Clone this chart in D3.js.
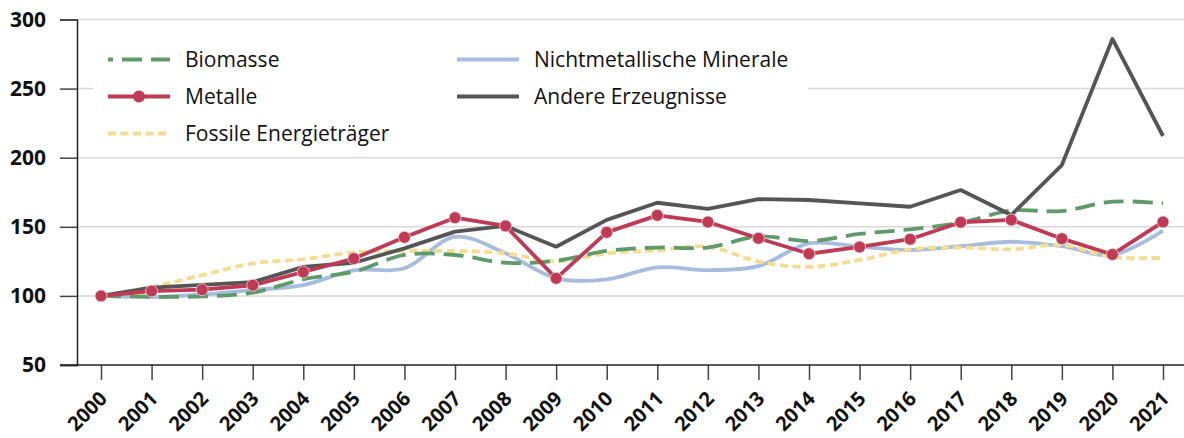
<!DOCTYPE html>
<html>
<head>
<meta charset="utf-8">
<script src="https://cdn.jsdelivr.net/npm/d3@7"></script>
<style>
  body { margin: 0; background: #fff; }
  svg { display: block; font-family: "Open Sans", sans-serif; }
</style>
</head>
<body>
<div id="chart"></div>
<script>
// years and index values (2000 = 100)
var years = [2000, 2001, 2002, 2003, 2004, 2005, 2006, 2007, 2008, 2009, 2010,
             2011, 2012, 2013, 2014, 2015, 2016, 2017, 2018, 2019, 2020, 2021];

var biomasse = [100, 99.4, 99.6, 102.3, 112, 117.5, 129.6, 129.6, 124, 125.5, 132.5,
                135, 135, 143, 139.7, 144.8, 148.2, 153, 161.7, 161.4, 168.2, 167];
var metalle  = [100, 103.5, 104.5, 107.7, 117.3, 127, 142.4, 156.6, 150.6, 112.7, 146,
                158.3, 153.5, 141.7, 130.5, 135.4, 141, 153.3, 155, 141.4, 130, 153.5];
var fossile  = [100, 106.5, 115, 123.5, 126.5, 131.5, 132.5, 132.5, 130.8, 125, 130.8,
                133, 135.6, 124.8, 121, 126, 133.7, 135, 133.7, 136.8, 128, 127.7];
var minerale = [100, 99.2, 101, 104.3, 107.8, 118.5, 120, 142.8, 130.8, 112.7, 112,
                120.7, 118.7, 121.6, 138, 135.6, 133.2, 136, 139.2, 136, 129.6, 147.2];
var andere   = [100, 106, 108, 110, 121, 124, 134.4, 146.5, 150.6, 135.6, 155,
                167.4, 162.9, 170, 169.4, 167, 164.5, 176.6, 158.5, 194.7, 285.9, 215.7];

var yTicks = [50, 100, 150, 200, 250, 300];

var series = [
  {name: "Biomasse", values: biomasse, color: "#5e9b69", dash: "20,9", legendOffset: 15, smooth: true, col: 0, row: 0},
  {name: "Metalle", values: metalle, color: "#be3a55", dash: null, smooth: false, marker: true, col: 0, row: 1},
  {name: "Fossile Energieträger", values: fossile, color: "#f6dc8e", dash: "8,4.5", smooth: true, col: 0, row: 2},
  {name: "Nichtmetallische Minerale", values: minerale, color: "#a7bde0", dash: null, smooth: true, col: 1, row: 0},
  {name: "Andere Erzeugnisse", values: andere, color: "#555555", dash: null, smooth: false, col: 1, row: 1}
];

var width = 1184, height = 438;
var margin = {left: 77, top: 19.5, right: 0, bottom: 73};

var svg = d3.select("#chart").append("svg")
    .attr("width", width)
    .attr("height", height);

var x = d3.scaleLinear().domain([2000, 2021]).range([101, 1163]);
var y = d3.scaleLinear().domain([50, 300]).range([height - margin.bottom, margin.top]);

// grid lines
svg.append("g").selectAll("line")
    .data(yTicks.filter(d => d > 50))
    .enter().append("line")
    .attr("x1", margin.left).attr("x2", width)
    .attr("y1", d => y(d)).attr("y2", d => y(d))
    .attr("stroke", "#d9d9d9").attr("stroke-width", 1.5);

// legend background hides part of the grid
svg.append("rect")
    .attr("x", 93).attr("y", 30)
    .attr("width", 715).attr("height", 122)
    .attr("fill", "#fff");

// y axis
var yAxis = d3.axisLeft(y).tickValues(yTicks).tickSize(17).tickPadding(14);
var gy = svg.append("g").attr("transform", "translate(" + margin.left + ",0)").call(yAxis);
gy.select(".domain").attr("stroke", "#222").attr("stroke-width", 1.5);
gy.selectAll(".tick line").attr("stroke", "#444").attr("stroke-width", 1.5);
gy.selectAll("text").attr("font-size", 21).attr("font-weight", "bold").attr("fill", "#111")
    .attr("font-family", "'Open Sans', sans-serif");

// x axis
var xAxis = d3.axisBottom(x).tickValues(years).tickFormat(d3.format("d")).tickSize(15);
var gx = svg.append("g").attr("transform", "translate(0," + y(50) + ")").call(xAxis);
gx.select(".domain").remove();
gx.append("line").attr("x1", 60).attr("x2", width).attr("y1", 0).attr("y2", 0)
    .attr("stroke", "#222").attr("stroke-width", 1.5);
gx.selectAll(".tick line").attr("stroke", "#444").attr("stroke-width", 1.5);
gx.selectAll("text")
    .attr("font-size", 20).attr("font-weight", "bold").attr("fill", "#111")
    .attr("font-family", "'Open Sans', sans-serif")
    .attr("text-anchor", "end")
    .attr("x", 0).attr("y", 0)
    .attr("dy", "0.35em")
    .attr("transform", "translate(2,30) rotate(-45)");

// lines
var straight = d3.line().x((d, i) => x(years[i])).y(d => y(d));
var smooth = d3.line().curve(d3.curveCatmullRom.alpha(0.5)).x((d, i) => x(years[i])).y(d => y(d));

var drawOrder = [3, 2, 0, 4, 1];
drawOrder.forEach(function(k) {
  var s = series[k];
  svg.append("path")
      .datum(s.values)
      .attr("d", s.smooth ? smooth : straight)
      .attr("fill", "none")
      .attr("stroke", s.color)
      .attr("stroke-width", 3.8)
      .attr("stroke-dasharray", s.dash)
      .attr("stroke-linejoin", "round");
  if (s.marker) {
    svg.append("g").selectAll("circle")
        .data(s.values).enter().append("circle")
        .attr("cx", (d, i) => x(years[i]))
        .attr("cy", d => y(d))
        .attr("r", 6)
        .attr("fill", s.color)
        .attr("stroke", "#f3d6dc").attr("stroke-width", 0.8);
  }
});

// legend
var legend = svg.append("g");
series.forEach(function(s) {
  var lx = s.col === 0 ? 108 : 457, ly = 59.5 + s.row * 37;
  var g = legend.append("g").attr("transform", "translate(" + lx + "," + ly + ")");
  g.append("line").attr("x1", 0).attr("x2", 62).attr("y1", 0).attr("y2", 0)
      .attr("stroke", s.color).attr("stroke-width", 3.8)
      .attr("stroke-dasharray", s.dash)
      .attr("stroke-dashoffset", s.legendOffset || 0);
  if (s.marker) g.append("circle").attr("cx", 31).attr("r", 6).attr("fill", s.color);
  g.append("text").attr("x", 77).attr("dy", "0.35em")
      .attr("font-size", 21).attr("fill", "#111").text(s.name);
});
</script>
</body>
</html>
